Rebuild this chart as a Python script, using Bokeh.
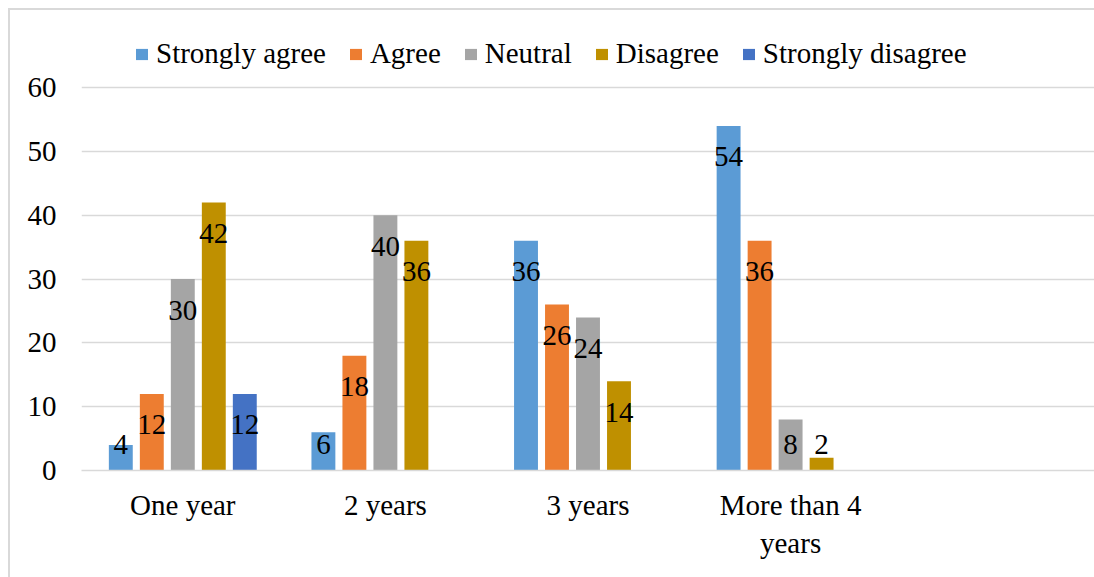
import math
from bokeh.plotting import figure
from bokeh.models import FactorRange, Range1d, Legend, LegendItem, ColumnDataSource, FixedTicker
from bokeh.transform import dodge
from bokeh.core.properties import value
from bokeh.embed import file_html
from bokeh.resources import INLINE

# ---- data ----
categories = ["One year", "2 years", "3 years", "More than 4\nyears", " "]
series_names = ["Strongly agree", "Agree", "Neutral", "Disagree", "Strongly disagree"]
strongly_agree = [4, 6, 36, 54]
agree = [12, 18, 26, 36]
neutral = [30, 40, 24, 8]
disagree = [42, 36, 14, 2]
strongly_disagree = [12, None, None, None]
y_ticks = [0, 10, 20, 30, 40, 50, 60]

series_values = [strongly_agree, agree, neutral, disagree, strongly_disagree]
colors = ["#5B9BD5", "#ED7D31", "#A5A5A5", "#BF9000", "#4472C4"]

FONT = "Liberation Serif"
FS = "29px"

# the frame reaches up to the chart's top so the legend sits inside it (above the 60 line)
p = figure(width=1094, height=577, x_range=FactorRange(*categories, range_padding=0),
           y_range=Range1d(0, 72.1), output_backend="svg", toolbar_location=None,
           min_border_left=81, min_border_right=0, min_border_top=10, min_border_bottom=107)
p.outline_line_color = None
p.background_fill_color = None
p.border_fill_color = None
p.styles = {
    "background": "linear-gradient(#D9D9D9,#D9D9D9) 8px 8px / 1090px 2px no-repeat, "
                  "linear-gradient(#D9D9D9,#D9D9D9) 8px 8px / 2px 575px no-repeat, white"
}

pitch = 0.153
bar_w = 0.118
items = []
for i, (name, vals, col) in enumerate(zip(series_names, series_values, colors)):
    xs, tops, lys, labs = [], [], [], []
    for c, v in zip(categories, vals):
        if v is None:
            continue
        xs.append(c)
        tops.append(v)
        lys.append(max(v - 4.86, 4.1))
        labs.append(str(v))
    src = ColumnDataSource(dict(x=xs, top=tops, ly=lys, lab=labs))
    off = (i - 2) * pitch
    r = p.vbar(x=dodge("x", off, range=p.x_range), top="top", bottom=0, width=bar_w,
               source=src, fill_color=col, line_color=None)
    p.text(x=dodge("x", off, range=p.x_range), y="ly", text="lab", source=src,
           text_font=value(FONT), text_font_size=FS, text_align="center",
           text_baseline="middle", text_color="black")
    items.append(LegendItem(label=name, renderers=[r]))

legend = Legend(items=items, orientation="horizontal", location=(53, 400),
                label_text_font=FONT, label_text_font_size=FS, label_text_color="black",
                glyph_width=15, glyph_height=14, label_standoff=7, spacing=22,
                padding=0, margin=0, border_line_color=None, background_fill_alpha=0)
p.add_layout(legend)

# axes
p.yaxis.ticker = FixedTicker(ticks=y_ticks)
p.yaxis.axis_line_color = None
p.yaxis.major_tick_line_color = None
p.yaxis.minor_tick_line_color = None
p.yaxis.major_tick_out = 0
p.yaxis.major_label_standoff = 25
p.yaxis.major_label_text_font = FONT
p.yaxis.major_label_text_font_size = FS
p.yaxis.major_label_text_color = "black"

p.xaxis.axis_line_color = "#D9D9D9"
p.xaxis.axis_line_width = 1.5
p.xaxis.major_tick_line_color = None
p.xaxis.major_tick_out = 0
p.xaxis.major_label_standoff = 18
p.xaxis.major_label_text_font = FONT
p.xaxis.major_label_text_font_size = FS
p.xaxis.major_label_text_color = "black"

p.xgrid.grid_line_color = None
p.ygrid.grid_line_color = "#D9D9D9"
p.ygrid.grid_line_width = 1.5

open("out.html", "w").write(file_html(p, INLINE))
